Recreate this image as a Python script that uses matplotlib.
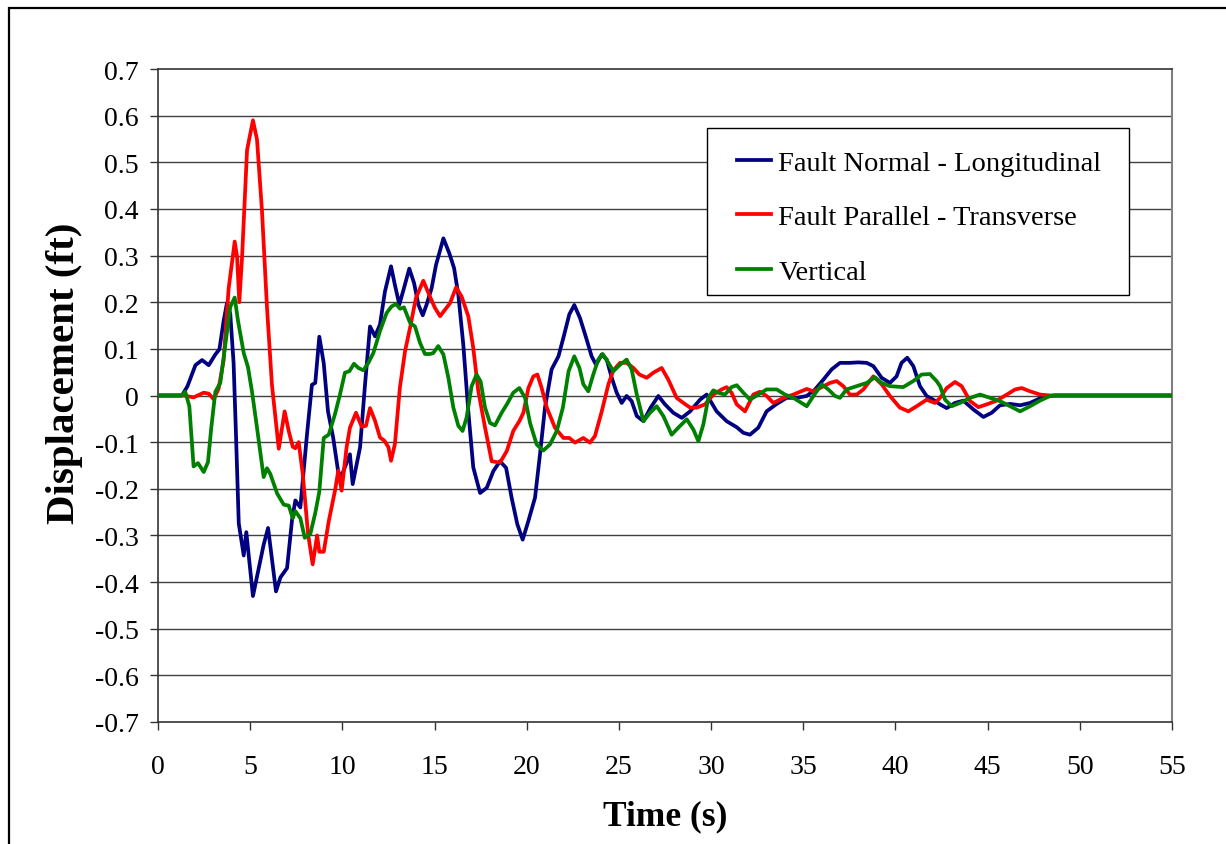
import matplotlib
matplotlib.use("Agg")
import matplotlib.pyplot as plt
from matplotlib.patches import Rectangle

# time (s) and displacement (ft)
t_normal = [0, 1.3, 1.6, 2.03, 2.39, 2.75, 3.11, 3.33, 3.56, 3.74, 3.92, 4.1, 4.23, 4.38, 4.65, 4.79,
            5.15, 5.73, 5.97, 6.4, 6.64, 7.0, 7.27, 7.45, 7.72, 8.08, 8.35, 8.53, 8.75, 8.99, 9.22,
            9.5, 9.78, 9.96, 10.41, 10.56, 10.96, 11.23, 11.5, 11.77, 12.04, 12.31, 12.64, 12.85,
            13.09, 13.34, 13.63, 13.89, 14.12, 14.36, 14.57, 14.84, 15.08, 15.48, 15.8, 16.06,
            16.29, 16.56, 16.83, 17.1, 17.47, 17.83, 18.19, 18.55, 18.88, 19.18, 19.49, 19.78,
            20.09, 20.45, 20.72, 20.99, 21.35, 21.72, 21.99, 22.31, 22.58, 22.89, 23.22, 23.52,
            23.76, 24.07, 24.34, 24.61, 24.88, 25.15, 25.42, 25.69, 25.97, 26.33, 26.72, 27.14,
            27.5, 27.95, 28.41, 28.86, 29.4, 29.76, 30.3, 30.84, 31.39, 31.75, 32.11, 32.56,
            33.01, 33.56, 34.1, 34.64, 35.19, 35.64, 36.09, 36.54, 36.99, 37.53, 37.98, 38.44,
            38.8, 39.25, 39.7, 40.06, 40.33, 40.64, 40.97, 41.33, 41.69, 42.05, 42.42, 42.78,
            43.23, 43.68, 44.23, 44.77, 45.22, 45.67, 46.22, 46.76, 47.3, 47.84, 48.38, 48.65, 55]
d_normal = [0, 0, 0.02, 0.065, 0.076, 0.065, 0.088, 0.099, 0.16, 0.198, 0.175, 0.07, -0.084, -0.274,
            -0.343, -0.293, -0.43, -0.32, -0.284, -0.42, -0.39, -0.37, -0.267, -0.225, -0.24, -0.084,
            0.023, 0.027, 0.126, 0.069, -0.034, -0.09, -0.165, -0.172, -0.126, -0.19, -0.111, 0.024,
            0.148, 0.127, 0.152, 0.223, 0.277, 0.237, 0.195, 0.23, 0.272, 0.241, 0.195, 0.172,
            0.195, 0.23, 0.28, 0.337, 0.305, 0.273, 0.216, 0.109, -0.033, -0.154, -0.209, -0.198,
            -0.162, -0.141, -0.155, -0.219, -0.276, -0.309, -0.269, -0.219, -0.126, -0.026, 0.056,
            0.084, 0.124, 0.174, 0.194, 0.166, 0.124, 0.084, 0.066, 0.088, 0.077, 0.038, 0.006,
            -0.016, -0.001, -0.012, -0.044, -0.055, -0.026, -0.001, -0.019, -0.037, -0.048, -0.034,
            -0.009, 0.002, -0.034, -0.055, -0.068, -0.08, -0.084, -0.069, -0.034, -0.018, -0.005,
            -0.005, -0.001, 0.013, 0.034, 0.056, 0.07, 0.07, 0.071, 0.07, 0.063, 0.038, 0.027,
            0.041, 0.07, 0.081, 0.063, 0.02, -0.001, -0.009, -0.019, -0.027, -0.016, -0.011, -0.03,
            -0.046, -0.037, -0.021, -0.018, -0.021, -0.016, -0.006, -0.001, 0, 0]

t_parallel = [0, 1.39, 1.93, 2.48, 2.75, 3.02, 3.29, 3.56, 3.83, 4.16, 4.29, 4.41, 4.56, 4.83, 5.15,
              5.37, 5.64, 5.91, 6.18, 6.55, 6.87, 7.09, 7.31, 7.45, 7.63, 7.85, 8.14, 8.39, 8.63,
              8.75, 8.99, 9.26, 9.6, 9.78, 9.96, 10.23, 10.41, 10.74, 11.05, 11.28, 11.5, 11.77,
              12.04, 12.28, 12.5, 12.64, 12.85, 13.12, 13.4, 13.67, 13.99, 14.39, 14.75, 15.02,
              15.3, 15.57, 15.84, 16.17, 16.47, 16.83, 17.1, 17.37, 17.74, 18.1, 18.55, 18.92,
              19.27, 19.6, 19.82, 20.09, 20.36, 20.58, 20.81, 21.09, 21.53, 21.99, 22.31, 22.62,
              23.07, 23.43, 23.7, 24.07, 24.43, 24.7, 25.06, 25.42, 25.79, 26.11, 26.51, 26.87,
              27.32, 27.68, 28.13, 28.5, 28.86, 29.22, 29.67, 30.12, 30.57, 30.84, 31.11, 31.39,
              31.84, 32.29, 32.65, 33.01, 33.38, 33.92, 34.46, 34.82, 35.19, 35.55, 35.91, 36.45,
              36.81, 37.17, 37.53, 37.9, 38.26, 38.8, 39.25, 39.7, 40.24, 40.7, 41.15, 41.69,
              42.14, 42.42, 42.78, 43.23, 43.59, 44.05, 44.5, 44.95, 45.49, 46.04, 46.49, 46.85,
              47.3, 47.84, 48.38, 55]
d_parallel = [0, 0, -0.004, 0.006, 0.004, -0.008, 0.015, 0.076, 0.229, 0.33, 0.297, 0.2, 0.297,
              0.526, 0.59, 0.549, 0.396, 0.19, 0.023, -0.114, -0.034, -0.076, -0.11, -0.113, -0.1,
              -0.168, -0.297, -0.362, -0.3, -0.335, -0.335, -0.27, -0.204, -0.161, -0.204, -0.111,
              -0.069, -0.037, -0.067, -0.065, -0.027, -0.054, -0.09, -0.097, -0.111, -0.14, -0.104,
              0.017, 0.095, 0.145, 0.209, 0.246, 0.212, 0.188, 0.17, 0.184, 0.198, 0.232, 0.212,
              0.17, 0.102, 0.01, -0.069, -0.141, -0.144, -0.119, -0.076, -0.055, -0.037, 0.016,
              0.041, 0.045, 0.016, -0.026, -0.069, -0.091, -0.091, -0.101, -0.091, -0.101, -0.087,
              -0.034, 0.024, 0.054, 0.07, 0.07, 0.059, 0.045, 0.038, 0.049, 0.059, 0.034, -0.005,
              -0.016, -0.026, -0.026, -0.019, 0.002, 0.013, 0.018, 0.006, -0.019, -0.034, 0.002,
              0.008, -0.001, -0.016, -0.005, 0.002, 0.008, 0.014, 0.009, 0.016, 0.027, 0.031, 0.02,
              0.002, 0.002, 0.013, 0.041, 0.024, -0.001, -0.026, -0.034, -0.023, -0.009, -0.016,
              -0.005, 0.016, 0.029, 0.02, -0.012, -0.025, -0.019, -0.011, 0.002, 0.013, 0.016,
              0.009, 0.002, 0, 0]

t_vertical = [0, 1.3, 1.48, 1.7, 1.93, 2.17, 2.48, 2.71, 2.89, 3.11, 3.38, 3.62, 3.92, 4.16, 4.34,
              4.65, 4.88, 5.1, 5.37, 5.73, 5.91, 6.09, 6.46, 6.82, 7.09, 7.31, 7.45, 7.72, 7.96,
              8.26, 8.53, 8.75, 8.99, 9.26, 9.6, 9.87, 10.14, 10.38, 10.63, 10.87, 11.14, 11.41,
              11.68, 12.04, 12.4, 12.67, 12.91, 13.13, 13.34, 13.67, 13.94, 14.21, 14.48, 14.75,
              14.93, 15.2, 15.48, 15.75, 16.02, 16.29, 16.52, 16.74, 17.01, 17.28, 17.5, 17.74,
              18.01, 18.28, 18.64, 18.92, 19.27, 19.6, 19.91, 20.18, 20.54, 20.9, 21.26, 21.63,
              21.96, 22.27, 22.58, 22.86, 23.07, 23.34, 23.61, 23.88, 24.12, 24.43, 24.7, 25.06,
              25.42, 25.69, 25.97, 26.33, 26.69, 27.05, 27.41, 27.86, 28.22, 28.68, 29.04, 29.31,
              29.58, 29.85, 30.12, 30.39, 30.75, 31.11, 31.39, 31.75, 32.11, 32.56, 33.01, 33.56,
              34.01, 34.46, 34.91, 35.19, 35.55, 36.0, 36.36, 36.72, 36.99, 37.35, 37.9, 38.44,
              38.89, 39.25, 39.7, 40.42, 40.97, 41.42, 41.87, 42.23, 42.42, 42.69, 43.05, 43.5,
              44.05, 44.59, 45.13, 45.67, 46.22, 46.76, 47.3, 47.84, 48.38, 48.65, 55]
d_vertical = [0, 0, 0.008, -0.023, -0.152, -0.145, -0.164, -0.143, -0.069, 0.008, 0.027, 0.099,
              0.19, 0.21, 0.16, 0.091, 0.061, 0.008, -0.069, -0.175, -0.156, -0.168, -0.21, -0.234,
              -0.236, -0.263, -0.248, -0.263, -0.305, -0.297, -0.252, -0.206, -0.091, -0.084, -0.04,
              0.002, 0.049, 0.052, 0.068, 0.059, 0.054, 0.07, 0.091, 0.138, 0.177, 0.191, 0.196,
              0.186, 0.189, 0.156, 0.148, 0.113, 0.089, 0.089, 0.091, 0.106, 0.088, 0.038, -0.026,
              -0.065, -0.076, -0.047, 0.02, 0.045, 0.03, -0.026, -0.059, -0.064, -0.037, -0.019,
              0.006, 0.016, -0.005, -0.059, -0.105, -0.118, -0.105, -0.076, -0.026, 0.052, 0.084,
              0.059, 0.024, 0.009, 0.045, 0.077, 0.089, 0.07, 0.052, 0.066, 0.077, 0.056, 0.002,
              -0.055, -0.037, -0.023, -0.044, -0.084, -0.069, -0.051, -0.073, -0.098, -0.062,
              -0.005, 0.011, 0.006, 0.002, 0.018, 0.022, 0.006, -0.009, 0.002, 0.013, 0.013, 0.002,
              -0.005, -0.016, -0.023, -0.001, 0.024, 0.013, -0.001, -0.005, 0.013, 0.02, 0.027,
              0.039, 0.027, 0.02, 0.018, 0.031, 0.045, 0.046, 0.031, 0.02, -0.009, -0.023, -0.016,
              -0.005, 0.002, -0.005, -0.012, -0.023, -0.034, -0.023, -0.011, -0.001, 0, 0]

x_ticks = [0, 5, 10, 15, 20, 25, 30, 35, 40, 45, 50, 55]
y_ticks = [-0.7, -0.6, -0.5, -0.4, -0.3, -0.2, -0.1, 0, 0.1, 0.2, 0.3, 0.4, 0.5, 0.6, 0.7]
y_labels = ["-0.7", "-0.6", "-0.5", "-0.4", "-0.3", "-0.2", "-0.1", "0",
            "0.1", "0.2", "0.3", "0.4", "0.5", "0.6", "0.7"]

plt.rcParams['font.family'] = ['Liberation Serif', 'DejaVu Serif']

fig = plt.figure(figsize=(12.26, 8.45), dpi=100)
ax = fig.add_axes([158/1226, 122/845, 1014/1226, 653/845])

# outer chart border (cut off at right/bottom like the original)
fig.patches.append(Rectangle((9/1226, -0.05), 1.2, 1.05 - 9/845, transform=fig.transFigure,
                             fill=False, edgecolor='black', lw=1.6, clip_on=False))

for yv in y_ticks[1:-1]:
    ax.axhline(yv, color='#404040', lw=1.0, zorder=1)

ax.plot(t_normal, d_normal, color='#000080', lw=2.7, label='Fault Normal - Longitudinal', zorder=3)
ax.plot(t_parallel, d_parallel, color='#ff0000', lw=2.7, label='Fault Parallel - Transverse', zorder=4)
ax.plot(t_vertical, d_vertical, color='#008000', lw=2.7, label='Vertical', zorder=5)

ax.set_xlim(0, 55)
ax.set_ylim(-0.7, 0.7)
ax.set_xticks(x_ticks)
ax.set_yticks(y_ticks)
ax.set_yticklabels(y_labels)
ax.tick_params(axis='both', direction='out', length=6, width=1.0, labelsize=20, color='#333333')
ax.tick_params(axis='x', pad=17)
ax.tick_params(axis='y', pad=8)

for side in ['left', 'bottom', 'top']:
    ax.spines[side].set_color('#333333')
    ax.spines[side].set_linewidth(1.2)
ax.spines['right'].set_color('#808080')
ax.spines['right'].set_linewidth(1.5)

ax.set_xlabel('Time (s)', fontsize=25.5, fontweight='bold')
ax.set_ylabel('Displacement (ft)', fontsize=29.5, fontweight='bold')
ax.xaxis.set_label_coords(0.5, -0.118)
ax.yaxis.set_label_coords(-0.074, 0.536)

# legend box drawn separately so its size matches the original
ax.add_patch(Rectangle((0.5414, 0.6539), 0.4162, 0.2557, transform=ax.transAxes,
                       facecolor='white', edgecolor='black', lw=1.0, zorder=6))
leg = ax.legend(loc='upper left', bbox_to_anchor=(0.571, 0.876), fontsize=20.5,
                frameon=False, handlelength=1.2, handletextpad=0.25, labelspacing=1.0,
                borderpad=0, borderaxespad=0)
leg.set_zorder(7)

fig.savefig('out.png', dpi=100)
